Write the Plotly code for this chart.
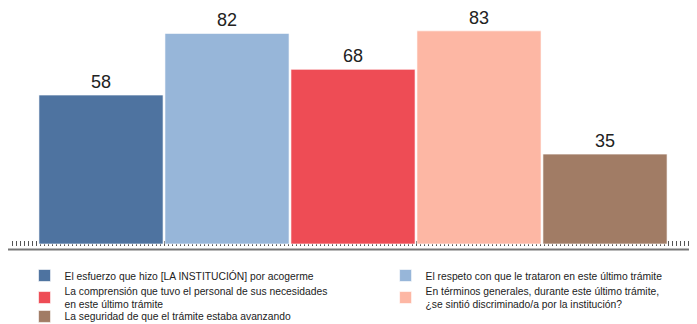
import plotly.graph_objects as go

series_names = [
    "El esfuerzo que hizo [LA INSTITUCIÓN] por acogerme",
    "El respeto con que le trataron en este último trámite",
    "La comprensión que tuvo el personal de sus necesidades<br>en este último trámite",
    "En términos generales, durante este último trámite,<br>¿se sintió discriminado/a por la institución?",
    "La seguridad de que el trámite estaba avanzando",
]
values = [58, 82, 68, 83, 35]
colors = ["#4e73a0", "#97b6d9", "#ee4c55", "#fdb7a4", "#a17c65"]
legend_ids = ["legend", "legend2", "legend3", "legend4", "legend5"]

fig = go.Figure()
for i, (name, v, c, lg) in enumerate(zip(series_names, values, colors, legend_ids)):
    fig.add_trace(go.Bar(
        x=[i], y=[v], name=name, width=0.985, legend=lg,
        marker=dict(color=c, line=dict(color="rgba(255,255,255,0.6)", width=1)),
        text=[str(v)], textposition="outside", cliponaxis=False,
        textfont=dict(size=18, color="#222", family="Liberation Sans, Arial, sans-serif"),
    ))

px_per_unit = 126.0
x0 = -0.5 - 30 / px_per_unit
x1 = 4.5 + 29 / px_per_unit

legend_common = dict(
    orientation="v", yanchor="top", xanchor="left",
    font=dict(size=10.3, color="#222"), traceorder="normal",
    itemclick=False, itemdoubleclick=False, bgcolor="rgba(0,0,0,0)",
)

fig.update_layout(
    width=689, height=316,
    margin=dict(l=0, r=0, t=0, b=78, autoexpand=False),
    paper_bgcolor="white", plot_bgcolor="white",
    barmode="overlay",
    font=dict(family="Liberation Sans, Arial, sans-serif", color="#222"),
    showlegend=True,
    legend=dict(x=0.024, y=-0.063, **legend_common),
    legend2=dict(x=0.548, y=-0.063, **legend_common),
    legend3=dict(x=0.024, y=-0.133, **legend_common),
    legend4=dict(x=0.548, y=-0.133, **legend_common),
    legend5=dict(x=0.024, y=-0.235, **legend_common),
    xaxis=dict(
        range=[x0, x1], showgrid=False, zeroline=False, showticklabels=False,
        ticks="inside", ticklen=5, tickwidth=1, tickcolor="#555",
        tick0=x0 + 0.5 / px_per_unit, dtick=4 / px_per_unit,
        layer="below traces", showline=False,
    ),
    yaxis=dict(range=[-0.78, 91.9], visible=False, showgrid=False, zeroline=False),
    shapes=[dict(type="line", xref="paper", yref="paper", x0=0, x1=1,
                 y0=-0.0147, y1=-0.0147, line=dict(color="#777", width=2))],
)

fig.write_html("out.html")
